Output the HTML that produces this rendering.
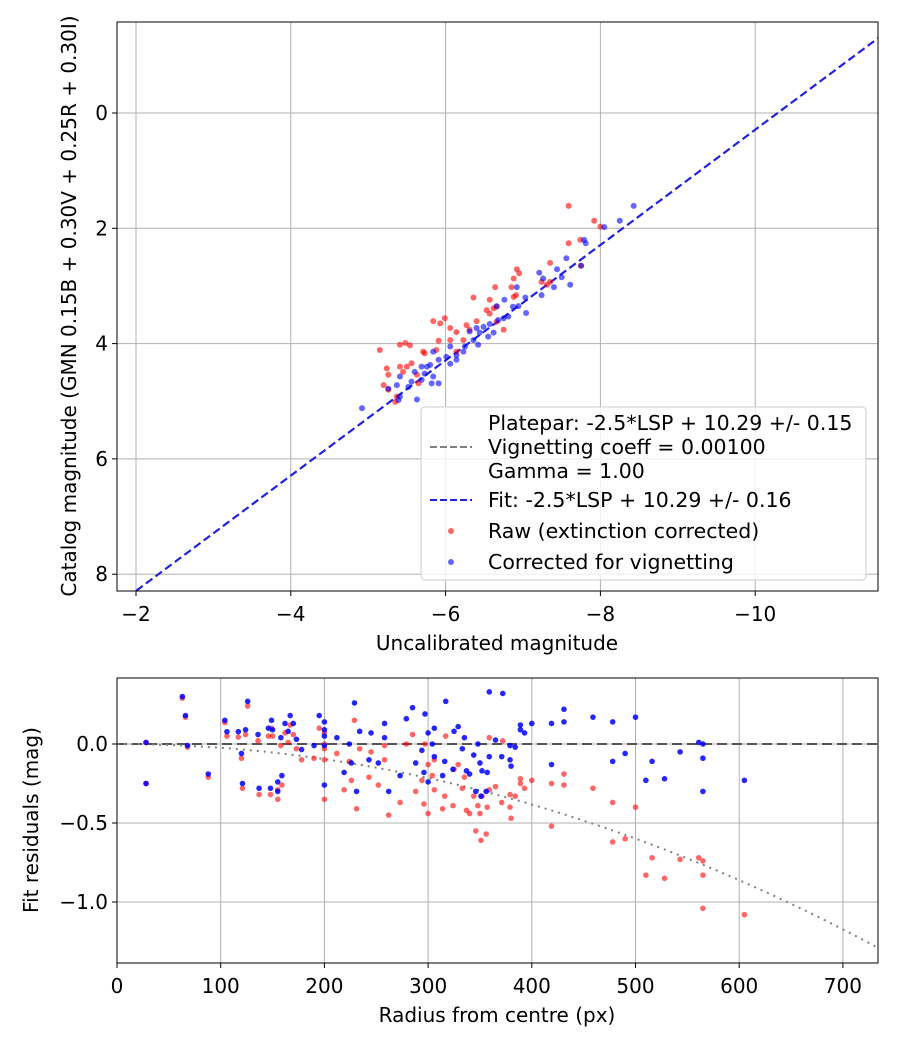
<!DOCTYPE html>
<html><head><meta charset="utf-8"><style>
body{margin:0;background:#fff}
svg text{font-family:"DejaVu Sans","Liberation Sans",sans-serif;fill:#000}
</style></head><body>
<svg id="c" width="900" height="1050" xmlns="http://www.w3.org/2000/svg"></svg>
<script>
const topXTicks=[-2,-4,-6,-8,-10];
const topYTicks=[0,2,4,6,8];
const rawX=[-7.59,-7.92,-8.0,-7.59,-7.74,-7.35,-7.75,-6.92,-6.95,-6.88,-6.64,-6.85,-6.91,-6.88,-6.36,-6.57,-6.66,-6.53,-6.62,-6.57,-5.99,-5.84,-5.93,-6.06,-6.14,-6.27,-6.40,-6.31,-6.23,-6.06,-5.91,-6.14,-5.15,-5.41,-5.48,-5.54,-5.71,-5.73,-5.88,-5.56,-5.50,-5.41,-5.24,-5.26,-5.45,-5.63,-5.65,-5.20,-5.26,-5.35,-5.37,-7.35,-7.24,-7.31,-6.75,-6.66];
const rawY=[1.61,1.87,1.97,2.26,2.20,2.60,2.65,2.71,2.78,2.87,3.02,3.02,3.16,3.19,3.20,3.24,3.36,3.42,3.39,3.48,3.56,3.61,3.65,3.73,3.80,3.68,3.61,3.76,3.94,3.94,3.95,4.14,4.11,4.02,3.99,4.03,4.14,4.17,4.11,4.34,4.40,4.40,4.43,4.54,4.49,4.54,4.69,4.72,4.80,5.01,4.92,2.93,2.93,2.98,3.76,3.62];
const corX=[-8.43,-8.25,-8.05,-7.79,-7.81,-7.56,-7.75,-7.44,-7.21,-7.26,-7.50,-7.61,-7.40,-7.24,-6.92,-7.03,-6.76,-6.66,-6.87,-6.94,-7.04,-6.81,-6.75,-6.68,-6.57,-6.49,-6.40,-6.31,-6.44,-6.62,-6.55,-6.36,-6.42,-6.25,-6.23,-6.06,-6.14,-6.14,-6.06,-6.01,-5.91,-5.84,-5.80,-5.69,-5.60,-5.73,-5.84,-5.91,-5.82,-5.69,-5.56,-5.41,-5.52,-5.37,-5.26,-5.39,-5.41,-5.63,-4.92,-5.76];
const corY=[1.61,1.87,1.98,2.20,2.26,2.52,2.65,2.71,2.77,2.87,2.85,2.98,3.02,3.16,3.02,3.20,3.24,3.35,3.36,3.35,3.47,3.53,3.56,3.59,3.66,3.71,3.73,3.79,3.81,3.81,3.88,3.94,4.02,4.05,4.14,4.05,4.20,4.28,4.35,4.23,4.28,4.14,4.37,4.40,4.49,4.52,4.57,4.69,4.69,4.63,4.66,4.57,4.75,4.72,4.78,4.98,4.92,4.97,5.12,4.40];
const fitSlope=1, fitIntercept=10.29;
const botXTicks=[0,100,200,300,400,500,600,700];
const botYTicks=[0.0,-0.5,-1.0];
const radius=[28,28,63,66,68,88,104,106,117,124,126,120,121,136,137,148,146,149,150,159,155,155,158,162,167,170,165,173,178,190,195,200,200,200,200,200,212,219,224,226,229,231,234,243,245,252,258,258,262,273,279,285,288,294,297,296,300,300,304,306,306,314,316,317,324,325,329,333,335,337,340,344,346,351,348,350,352,359,372,365,359,357,356,371,379,379,380,384,389,389,393,400,419,419,431,431,459,478,478,490,500,510,516,528,543,561,565,565,565,605];
const resRaw=[0.01,-0.25,0.29,0.17,-0.02,-0.21,0.135,0.05,0.044,0.06,0.24,-0.09,-0.28,0.02,-0.32,-0.32,0.05,0.1,0.05,-0.26,-0.35,-0.29,-0.01,0.07,0.12,0.06,0.01,-0.03,-0.1,-0.09,0.1,0.07,0.0,-0.03,-0.1,-0.35,-0.06,-0.29,-0.11,-0.23,0.15,-0.41,-0.03,-0.21,-0.05,-0.26,-0.01,-0.1,-0.45,-0.37,0.0,0.06,-0.3,-0.23,0.0,-0.38,-0.44,-0.13,-0.2,-0.1,-0.29,-0.41,-0.33,0.05,-0.39,-0.16,-0.13,-0.28,-0.21,-0.42,-0.44,-0.33,-0.55,-0.61,-0.39,-0.44,-0.33,0.04,0.02,-0.27,-0.29,-0.4,-0.57,-0.37,-0.32,-0.4,-0.47,-0.33,-0.22,-0.25,-0.28,-0.23,-0.25,-0.52,-0.19,-0.26,-0.28,-0.37,-0.62,-0.6,-0.4,-0.83,-0.72,-0.85,-0.73,-0.72,-0.74,-0.83,-1.04,-1.08];
const resCor=[0.01,-0.25,0.30,0.18,-0.01,-0.19,0.15,0.078,0.078,0.09,0.27,-0.06,-0.25,0.06,-0.28,-0.28,0.1,0.15,0.09,-0.2,-0.24,-0.3,0.04,0.13,0.18,0.13,0.08,0.03,-0.035,-0.01,0.18,0.14,0.09,0.05,-0.01,-0.26,0.04,-0.18,0.0,-0.12,0.26,-0.3,0.08,-0.1,0.07,-0.12,0.13,0.04,-0.3,-0.2,0.16,0.23,-0.12,-0.04,0.19,-0.18,-0.24,0.07,0.0,0.1,-0.08,-0.2,-0.11,0.27,-0.16,0.08,0.11,-0.03,0.04,-0.17,-0.19,-0.07,-0.3,-0.33,0.0,-0.12,-0.17,0.33,0.32,0.025,-0.08,-0.18,-0.3,-0.08,-0.01,-0.1,-0.14,-0.02,0.12,0.09,0.07,0.13,0.13,-0.13,0.22,0.14,0.17,0.14,-0.11,-0.06,0.17,-0.23,-0.11,-0.22,-0.05,0.01,0.0,-0.09,-0.3,-0.23];

const NS='http://www.w3.org/2000/svg';
const svg=document.getElementById('c');
function el(tag,attrs,parent){const e=document.createElementNS(NS,tag);for(const k in attrs)e.setAttribute(k,attrs[k]);(parent||svg).appendChild(e);return e;}
function txt(s,x,y,size,anchor,parent){const t=el('text',{x:x,y:y,'font-size':size,'text-anchor':anchor||'middle'},parent);t.textContent=s;return t;}
const FS=20;

const T={l:117,r:878,t:22,b:591};
const tx=v=>136+(-2-v)*77.4;
const ty=v=>113+v*57.65;
const gTop=el('g',{});


topXTicks.forEach(v=>{const x=tx(v);
 const g=el('line',{x1:x,x2:x,y1:T.t,y2:T.b,stroke:'#b0b0b0','stroke-width':1},gTop);
 
 el('line',{x1:x,x2:x,y1:T.b,y2:T.b+5,stroke:'#000'},gTop);
 const t=txt('\u2212'+Math.abs(v),x,T.b+30,FS,'middle',gTop);
 });
topYTicks.forEach(v=>{const y=ty(v);
 const g=el('line',{x1:T.l,x2:T.r,y1:y,y2:y,stroke:'#b0b0b0','stroke-width':1},gTop);
 
 el('line',{x1:T.l-5,x2:T.l,y1:y,y2:y,stroke:'#000'},gTop);
 const t=txt(String(v),T.l-9,y+7,FS,'end',gTop);
 });
const clipT=el('clipPath',{id:'ct'});el('rect',{x:T.l,y:T.t,width:T.r-T.l,height:T.b-T.t},clipT);
const x0=-1.755,x1=-11.59;
const fl=el('line',{x1:tx(x0),y1:ty(fitSlope*x0+fitIntercept),x2:tx(x1),y2:ty(fitSlope*x1+fitIntercept),stroke:'#2222dd','stroke-width':2.2,'stroke-dasharray':'8,4','clip-path':'url(#ct)'},gTop);

rawX.forEach((v,i)=>{const c=el('circle',{cx:tx(v),cy:ty(rawY[i]),r:3,fill:'red','fill-opacity':0.6},gTop);
 });
corX.forEach((v,i)=>{const c=el('circle',{cx:tx(v),cy:ty(corY[i]),r:3,fill:'blue','fill-opacity':0.6},gTop);
 });
el('rect',{x:T.l,y:T.t,width:T.r-T.l,height:T.b-T.t,fill:'none',stroke:'#000','stroke-width':1},gTop);
const lg=el('g',{});

el('rect',{x:421,y:407,width:445,height:173,rx:4,fill:'#fff','fill-opacity':0.8,stroke:'#ccc'},lg);
const L=[['Platepar: -2.5*LSP + 10.29 +/- 0.15',null,430],['Vignetting coeff = 0.00100','gray',454],['Gamma = 1.00',null,478],['Fit: -2.5*LSP + 10.29 +/- 0.16','blue',507],['Raw (extinction corrected)','rdot',538],['Corrected for vignetting','bdot',569]];
L.forEach(([s,h,y])=>{
 if(h==='gray')el('line',{x1:430,x2:472,y1:y-7,y2:y-7,stroke:'#808080','stroke-width':2,'stroke-dasharray':'7,3'},lg);
 if(h==='blue')el('line',{x1:430,x2:472,y1:y-7,y2:y-7,stroke:'#2222dd','stroke-width':2,'stroke-dasharray':'7,3'},lg);
 if(h==='rdot')el('circle',{cx:451,cy:y-7,r:3,fill:'red','fill-opacity':0.6},lg);
 if(h==='bdot')el('circle',{cx:451,cy:y-7,r:3,fill:'blue','fill-opacity':0.6},lg);
 const t=txt(s,488,y,20.5,'start',lg);});
const xt1=txt('Uncalibrated magnitude',497,650,FS);
const yt1=txt('Catalog magnitude (GMN 0.15B + 0.30V + 0.25R + 0.30I)',0,0,FS);yt1.setAttribute('transform','translate(76,306) rotate(-90)');


const B={l:117,r:878,t:678,b:963};
const bx=v=>117+v*1.037;
const by=v=>744-v*158;
const gB=el('g',{});

botXTicks.forEach(v=>{const x=bx(v);
 const g=el('line',{x1:x,x2:x,y1:B.t,y2:B.b,stroke:'#b0b0b0'},gB);
 
 el('line',{x1:x,x2:x,y1:B.b,y2:B.b+5,stroke:'#000'},gB);
 const t=txt(String(v),x,B.b+30,FS,'middle',gB);});
botYTicks.forEach(v=>{const y=by(v);
 const g=el('line',{x1:B.l,x2:B.r,y1:y,y2:y,stroke:'#b0b0b0'},gB);
 
 el('line',{x1:B.l-5,x2:B.l,y1:y,y2:y,stroke:'#000'},gB);
 const t=txt((v<0?'\u2212':'')+Math.abs(v).toFixed(1),B.l-9,y+7,FS,'end',gB);});
const zl=el('line',{x1:B.l,x2:B.r,y1:by(0),y2:by(0),stroke:'#555','stroke-width':2,'stroke-dasharray':'10,5'},gB);

let d='';for(let r=0;r<=734;r+=6){const v=-1.29*Math.pow(r/734,2);d+=(r?'L':'M')+bx(r).toFixed(1)+','+by(v).toFixed(1);}
const vc=el('path',{d:d,fill:'none',stroke:'#808080','stroke-width':2,'stroke-dasharray':'2,5'},gB);

radius.forEach((r,i)=>{const c=el('circle',{cx:bx(r),cy:by(resRaw[i]),r:2.8,fill:'red','fill-opacity':0.6},gB);
 });
radius.forEach((r,i)=>{const c=el('circle',{cx:bx(r),cy:by(resCor[i]),r:2.8,fill:'blue','fill-opacity':0.85},gB);
 });
el('rect',{x:B.l,y:B.t,width:B.r-B.l,height:B.b-B.t,fill:'none',stroke:'#000'},gB);
const xt2=txt('Radius from centre (px)',497,1022,FS);
const yt2=txt('Fit residuals (mag)',0,0,FS);yt2.setAttribute('transform','translate(38,820) rotate(-90)');

</script>
</body></html>
